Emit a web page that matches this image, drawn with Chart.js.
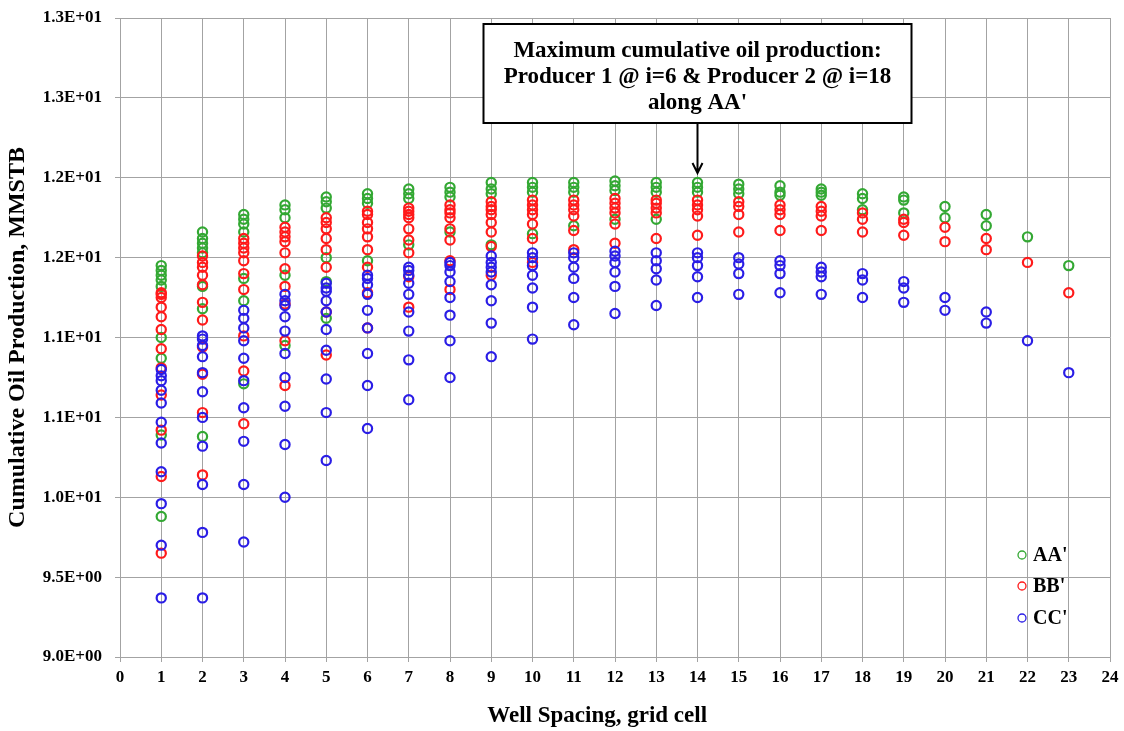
<!DOCTYPE html>
<html>
<head>
<meta charset="utf-8">
<title>Cumulative oil production vs well spacing</title>
<script src="https://cdn.jsdelivr.net/npm/chart.js@4.4.1/dist/chart.umd.min.js"></script>
<style>
  body { margin: 0; background: #fff; }
  canvas { display: block; }
</style>
</head>
<body>
<canvas id="chart" width="1124" height="731"></canvas>
<script>
// well spacing (grid cells) - one column of runs per spacing
const wellSpacing = [1, 2, 3, 4, 5, 6, 7, 8, 9, 10, 11, 12, 13, 14, 15, 16, 17, 18, 19, 20, 21, 22, 23];

// cumulative oil production (MMSTB), one list per spacing
const aaValues = [
    [11.45, 11.42, 11.39, 11.36, 11.32, 11.00, 10.87, 10.39, 9.88],
    [11.66, 11.62, 11.59, 11.56, 11.53, 11.32, 11.18, 10.38],
    [11.77, 11.74, 11.71, 11.66, 11.37, 11.23, 10.71],
    [11.83, 11.80, 11.75, 11.39, 10.95],
    [11.88, 11.85, 11.81, 11.50, 11.35, 11.12],
    [11.90, 11.87, 11.84, 11.48],
    [11.93, 11.90, 11.87, 11.58],
    [11.94, 11.91, 11.88, 11.66],
    [11.97, 11.93, 11.90, 11.58],
    [11.97, 11.94, 11.91, 11.65],
    [11.97, 11.94, 11.91, 11.70],
    [11.98, 11.95, 11.92, 11.74],
    [11.97, 11.94, 11.91, 11.74],
    [11.97, 11.94, 11.91],
    [11.96, 11.93, 11.90],
    [11.95, 11.91, 11.89],
    [11.93, 11.91, 11.89],
    [11.90, 11.87, 11.80],
    [11.88, 11.86, 11.78],
    [11.82, 11.75],
    [11.77, 11.70],
    [11.63],
    [11.45]
];

const bbValues = [
    [11.28, 11.27, 11.25, 11.19, 11.13, 11.05, 10.93, 10.81, 10.64, 10.42, 10.13, 9.65],
    [11.51, 11.47, 11.44, 11.39, 11.33, 11.22, 11.11, 10.94, 10.77, 10.53, 10.14],
    [11.62, 11.59, 11.56, 11.53, 11.48, 11.40, 11.30, 11.01, 10.79, 10.46],
    [11.69, 11.66, 11.63, 11.60, 11.53, 11.43, 11.32, 11.21, 10.98, 10.70],
    [11.75, 11.72, 11.68, 11.62, 11.55, 11.44, 11.16, 10.89],
    [11.79, 11.77, 11.72, 11.68, 11.63, 11.55, 11.44, 11.28, 11.06],
    [11.81, 11.79, 11.77, 11.75, 11.68, 11.61, 11.53, 11.38, 11.19],
    [11.83, 11.80, 11.78, 11.75, 11.68, 11.61, 11.48, 11.30],
    [11.85, 11.82, 11.80, 11.77, 11.72, 11.66, 11.57, 11.39],
    [11.86, 11.83, 11.80, 11.77, 11.71, 11.62, 11.47],
    [11.86, 11.83, 11.80, 11.76, 11.67, 11.55],
    [11.87, 11.84, 11.81, 11.78, 11.71, 11.59],
    [11.86, 11.84, 11.81, 11.78, 11.62],
    [11.86, 11.83, 11.80, 11.76, 11.64],
    [11.85, 11.82, 11.77, 11.66],
    [11.83, 11.80, 11.77, 11.67],
    [11.82, 11.79, 11.76, 11.67],
    [11.78, 11.74, 11.66],
    [11.74, 11.72, 11.64],
    [11.69, 11.60],
    [11.62, 11.55],
    [11.47],
    [11.28]
];

const ccValues = [
    [10.80, 10.76, 10.73, 10.67, 10.59, 10.47, 10.34, 10.16, 9.96, 9.70, 9.37],
    [11.01, 10.99, 10.95, 10.88, 10.78, 10.66, 10.50, 10.32, 10.08, 9.78, 9.37],
    [11.17, 11.12, 11.06, 10.98, 10.87, 10.73, 10.56, 10.35, 10.08, 9.72],
    [11.27, 11.23, 11.20, 11.13, 11.04, 10.90, 10.75, 10.57, 10.33, 10.00],
    [11.34, 11.31, 11.29, 11.23, 11.16, 11.05, 10.92, 10.74, 10.53, 10.23],
    [11.39, 11.37, 11.33, 11.27, 11.17, 11.06, 10.90, 10.70, 10.43],
    [11.44, 11.42, 11.39, 11.34, 11.27, 11.16, 11.04, 10.86, 10.61],
    [11.47, 11.45, 11.41, 11.35, 11.25, 11.14, 10.98, 10.75],
    [11.51, 11.47, 11.44, 11.41, 11.33, 11.23, 11.09, 10.88],
    [11.53, 11.50, 11.45, 11.39, 11.31, 11.19, 10.99],
    [11.53, 11.50, 11.44, 11.37, 11.25, 11.08],
    [11.54, 11.51, 11.47, 11.41, 11.32, 11.15],
    [11.53, 11.48, 11.43, 11.36, 11.20],
    [11.53, 11.50, 11.45, 11.38, 11.25],
    [11.50, 11.46, 11.40, 11.27],
    [11.48, 11.45, 11.40, 11.28],
    [11.44, 11.41, 11.38, 11.27],
    [11.40, 11.36, 11.25],
    [11.35, 11.31, 11.22],
    [11.25, 11.17],
    [11.16, 11.09],
    [10.98],
    [10.78]
];

const seriesNames = ["AA'", "BB'", "CC'"];
const seriesColors = ['#33a833', '#ff1a1a', '#2a1de6'];

// the y tick labels are printed with 2 significant digits, as in the original
const yTickValues = [9.0, 9.5, 10.0, 10.5, 11.0, 11.5, 12.0, 12.5, 13.0];
const yTickLabels = ['9.0E+00', '9.5E+00', '1.0E+01', '1.1E+01', '1.1E+01', '1.2E+01', '1.2E+01', '1.3E+01', '1.3E+01'];

const xTitle = 'Well Spacing, grid cell';
const calloutLines = [
    'Maximum cumulative oil production:',
    'Producer 1 @ i=6 & Producer 2 @ i=18',
    "along AA'"
];
const calloutSpacing = 14;
const calloutTipValue = 12.03;

const serif = "'Liberation Serif', 'Times New Roman', serif";
const gridColor = '#a3a3a3';

function toPoints(values) {
    return wellSpacing.flatMap((x, i) => values[i].map(y => ({ x: x, y: y })));
}

// legend in the lower right corner of the plot, plus the x title
// (drawn by hand because it sits a bit left of the plot centre)
const cornerLegend = {
    id: 'cornerLegend',
    afterDatasetsDraw(chart) {
        const ctx = chart.ctx;
        const area = chart.chartArea;
        const rows = [area.bottom - 102, area.bottom - 71, area.bottom - 39];
        ctx.save();
        ctx.font = 'bold 20px ' + serif;
        ctx.textBaseline = 'middle';
        ctx.textAlign = 'left';
        seriesNames.forEach((name, i) => {
            ctx.beginPath();
            ctx.arc(area.right - 88, rows[i], 4, 0, Math.PI * 2);
            ctx.strokeStyle = seriesColors[i];
            ctx.lineWidth = 1.3;
            ctx.stroke();
            ctx.fillStyle = '#000';
            ctx.fillText(name, area.right - 77, rows[i] + 1);
        });

        ctx.font = 'bold 23px ' + serif;
        ctx.textAlign = 'center';
        ctx.fillText(xTitle, area.left + (area.right - area.left) * 0.482, area.bottom + 59);
        ctx.restore();
    }
};

// text box with an arrow pointing at the best spacing
const callout = {
    id: 'callout',
    afterDatasetsDraw(chart) {
        const ctx = chart.ctx;
        const xs = chart.scales.x;
        const ys = chart.scales.y;
        const ax = xs.getPixelForValue(calloutSpacing);
        const tipY = ys.getPixelForValue(calloutTipValue);
        const boxW = 428, boxTop = 24, boxBottom = 123;
        const left = ax - boxW / 2;

        ctx.save();
        ctx.fillStyle = '#fff';
        ctx.fillRect(left, boxTop, boxW, boxBottom - boxTop);
        ctx.strokeStyle = '#000';
        ctx.lineWidth = 2;
        ctx.strokeRect(left, boxTop, boxW, boxBottom - boxTop);

        ctx.fillStyle = '#000';
        ctx.font = 'bold 23px ' + serif;
        ctx.textAlign = 'center';
        ctx.textBaseline = 'middle';
        calloutLines.forEach((line, i) => {
            ctx.fillText(line, ax, 51 + i * 26);
        });

        // arrow
        ctx.beginPath();
        ctx.moveTo(ax, boxBottom);
        ctx.lineTo(ax, tipY);
        ctx.moveTo(ax - 5, tipY - 10);
        ctx.lineTo(ax, tipY);
        ctx.lineTo(ax + 5, tipY - 10);
        ctx.lineWidth = 2;
        ctx.stroke();
        ctx.restore();
    }
};

const ctx = document.getElementById('chart').getContext('2d');

new Chart(ctx, {
    type: 'scatter',
    data: {
        datasets: [aaValues, bbValues, ccValues].map((vals, i) => ({
            label: seriesNames[i],
            data: toPoints(vals),
            borderColor: seriesColors[i],
            backgroundColor: 'rgba(0,0,0,0)',
            pointRadius: 4.6,
            pointBorderWidth: 2.2,
            pointHoverRadius: 4.6,
            order: 3 - i
        }))
    },
    options: {
        responsive: false,
        animation: false,
        events: [],
        layout: {
            padding: { top: 18, right: 14, left: 0, bottom: 0 }
        },
        plugins: {
            legend: { display: false },
            tooltip: { enabled: false }
        },
        scales: {
            x: {
                type: 'linear',
                min: 0,
                max: 24,
                afterFit: scale => { scale.height = 74; },
                afterBuildTicks: scale => {
                    scale.ticks = [0].concat(wellSpacing, [24]).map(v => ({ value: v }));
                },
                ticks: {
                    color: '#000',
                    padding: 5,
                    font: { family: serif, size: 17, weight: 'bold' }
                },
                grid: { color: gridColor, lineWidth: 1, tickLength: 5 },
                border: { color: gridColor, width: 1 }
            },
            y: {
                type: 'linear',
                min: 9,
                max: 13,
                afterFit: scale => {
                    scale.width = 120;
                    scale.paddingTop = 10;
                    scale.paddingBottom = 10;
                },
                afterBuildTicks: scale => {
                    scale.ticks = yTickValues.map(v => ({ value: v }));
                },
                ticks: {
                    color: '#000',
                    padding: 13,
                    font: { family: serif, size: 17, weight: 'bold' },
                    callback: (value) => yTickLabels[yTickValues.indexOf(value)]
                },
                grid: { color: gridColor, lineWidth: 1, tickLength: 5 },
                border: { color: gridColor, width: 1 },
                title: {
                    display: true,
                    text: 'Cumulative Oil Production, MMSTB',
                    color: '#000',
                    font: { family: serif, size: 24, weight: 'bold' },
                    padding: { top: 3, bottom: 0 }
                }
            }
        }
    },
    plugins: [cornerLegend, callout]
});
</script>
</body>
</html>
